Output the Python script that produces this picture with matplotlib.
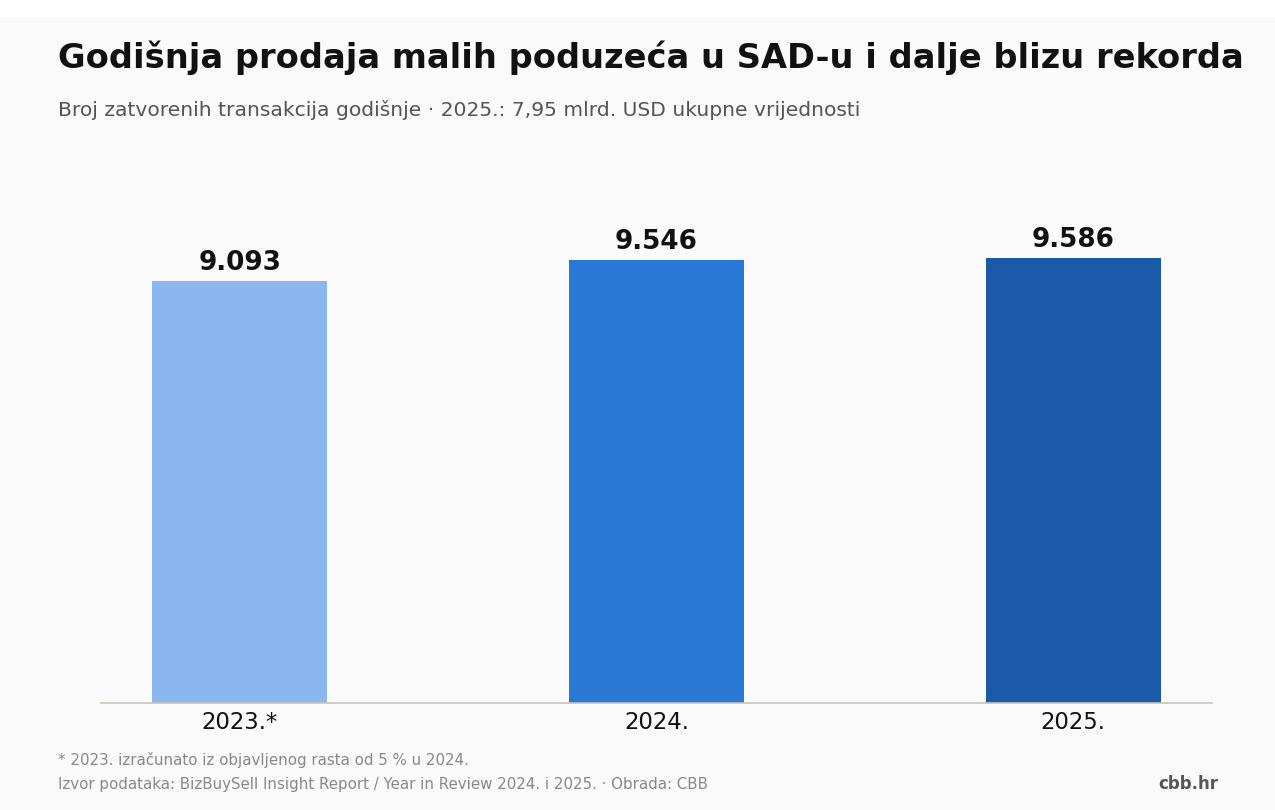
import matplotlib.pyplot as plt
from matplotlib.patches import Rectangle

# data
years = ['2023.*', '2024.', '2025.']
deals = [9093, 9546, 9586]
labels = ['9.093', '9.546', '9.586']
colors = ['#8ab8ee', '#2a78d6', '#1b5aa8']

W, H = 1275, 810
fig = plt.figure(figsize=(W / 100, H / 100), dpi=100, facecolor='white')
# light panel below the thin white strip at the top
fig.patches.append(Rectangle((0, 0), 1, 1 - 17 / H, transform=fig.transFigure,
                             facecolor='#fafafa', edgecolor='none', zorder=-10))

ax = fig.add_axes([101 / W, 1 - 703 / H, (1212 - 101) / W, (703 - 190) / H])
ax.set_facecolor('none')

x = range(len(years))
ax.bar(x, deals, width=0.42, color=colors, zorder=2)
for xi, v, lab in zip(x, deals, labels):
    ax.text(xi, v + 110, lab, ha='center', va='bottom', fontsize=18.9,
            fontweight='bold', color='#111111')

ax.set_xlim(-0.333, 2.333)
ax.set_ylim(0, 9586 * 513 / 445)
ax.set_xticks(list(x))
ax.set_xticklabels(years, fontsize=16.4, color='#111111')
ax.tick_params(axis='x', length=0, pad=6)
ax.set_yticks([])
for s in ['top', 'right', 'left']:
    ax.spines[s].set_visible(False)
ax.spines['bottom'].set_color('#c8c4b8')
ax.spines['bottom'].set_linewidth(1.2)

fig.text(58 / W, 1 - 58 / H, 'Godišnja prodaja malih poduzeća u SAD-u i dalje blizu rekorda',
         fontsize=24.2, fontweight='bold', color='#111111', va='center')
fig.text(58 / W, 1 - 110 / H,
         'Broj zatvorenih transakcija godišnje · 2025.: 7,95 mlrd. USD ukupne vrijednosti',
         fontsize=14.6, color='#555555', va='center')
fig.text(58 / W, 1 - 760 / H, '* 2023. izračunato iz objavljenog rasta od 5 % u 2024.',
         fontsize=10.8, color='#888888', va='center')
fig.text(58 / W, 1 - 784 / H,
         'Izvor podataka: BizBuySell Insight Report / Year in Review 2024. i 2025. · Obrada: CBB',
         fontsize=10.8, color='#888888', va='center')
fig.text(1218 / W, 1 - 784 / H, 'cbb.hr', fontsize=12, fontweight='bold',
         color='#555555', va='center', ha='right')

fig.savefig('out.png', dpi=100, facecolor=fig.get_facecolor())
